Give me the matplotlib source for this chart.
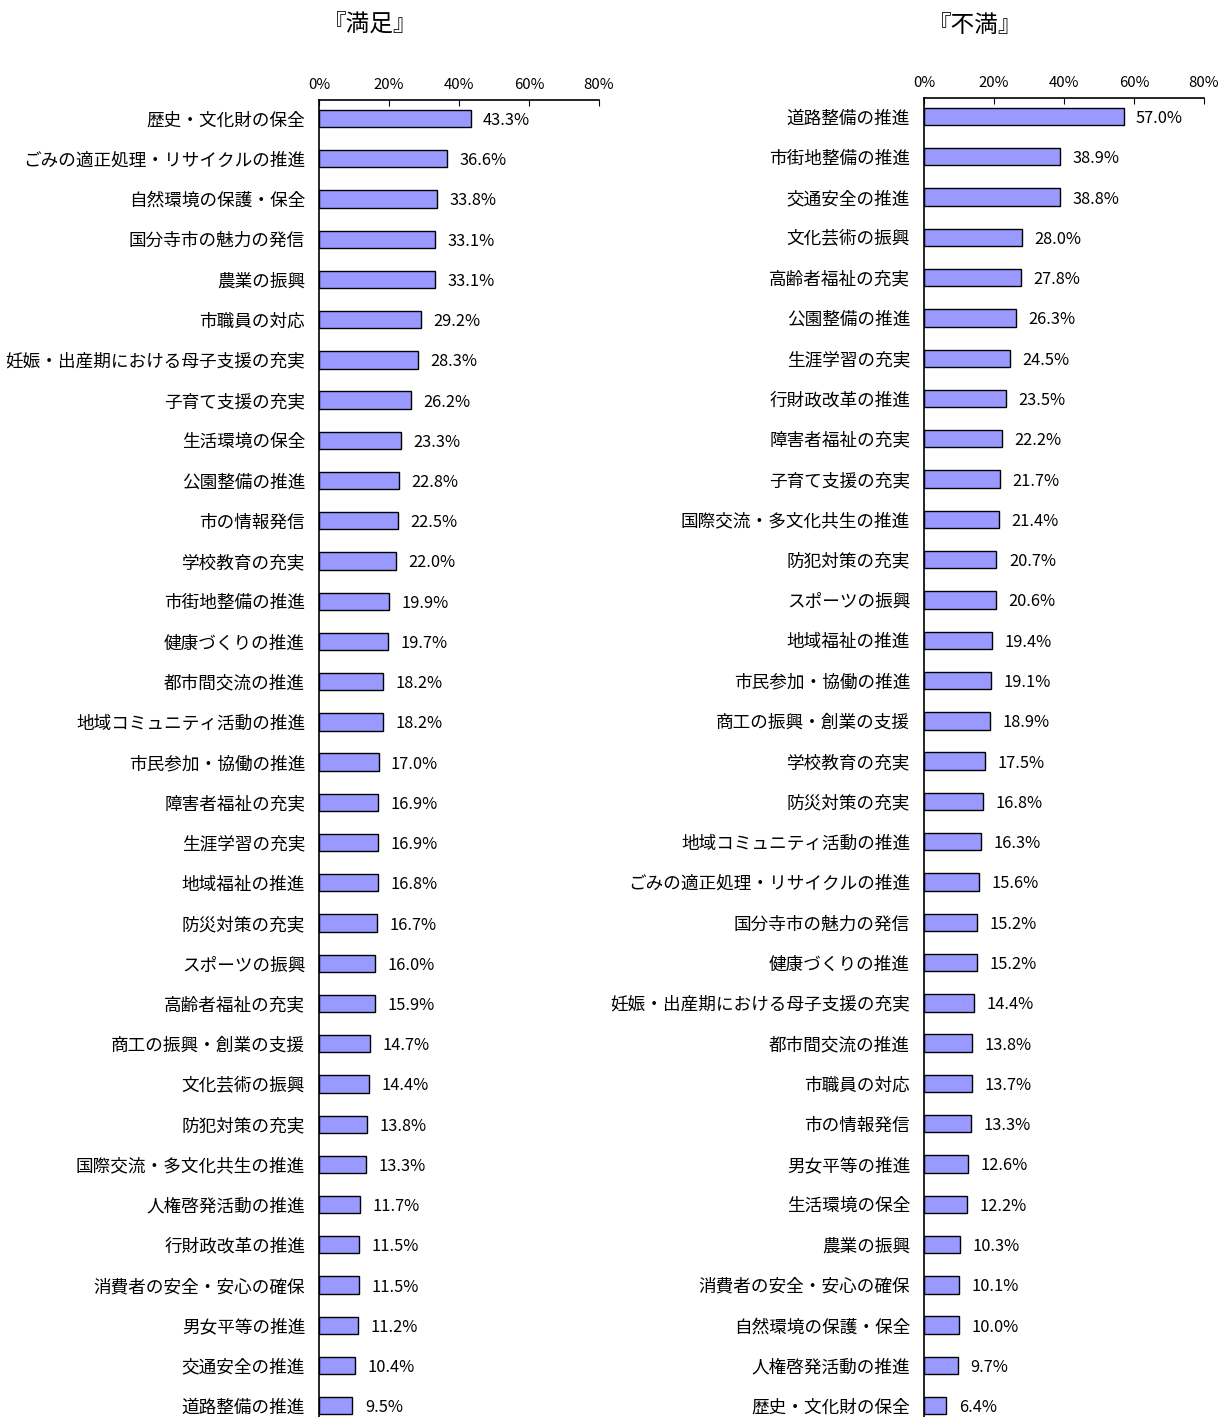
import matplotlib
matplotlib.use("Agg")
import matplotlib.pyplot as plt
import numpy as np

plt.rcParams['font.family'] = ['Noto Sans CJK JP', 'DejaVu Sans']

# 『満足』
sat_labels = [
    "歴史・文化財の保全", "ごみの適正処理・リサイクルの推進", "自然環境の保護・保全",
    "国分寺市の魅力の発信", "農業の振興", "市職員の対応",
    "妊娠・出産期における母子支援の充実", "子育て支援の充実", "生活環境の保全",
    "公園整備の推進", "市の情報発信", "学校教育の充実", "市街地整備の推進",
    "健康づくりの推進", "都市間交流の推進", "地域コミュニティ活動の推進",
    "市民参加・協働の推進", "障害者福祉の充実", "生涯学習の充実", "地域福祉の推進",
    "防災対策の充実", "スポーツの振興", "高齢者福祉の充実", "商工の振興・創業の支援",
    "文化芸術の振興", "防犯対策の充実", "国際交流・多文化共生の推進",
    "人権啓発活動の推進", "行財政改革の推進", "消費者の安全・安心の確保",
    "男女平等の推進", "交通安全の推進", "道路整備の推進",
]
sat_values = [43.3, 36.6, 33.8, 33.1, 33.1, 29.2, 28.3, 26.2, 23.3, 22.8, 22.5,
              22.0, 19.9, 19.7, 18.2, 18.2, 17.0, 16.9, 16.9, 16.8, 16.7, 16.0,
              15.9, 14.7, 14.4, 13.8, 13.3, 11.7, 11.5, 11.5, 11.2, 10.4, 9.5]

# 『不満』
dis_labels = [
    "道路整備の推進", "市街地整備の推進", "交通安全の推進", "文化芸術の振興",
    "高齢者福祉の充実", "公園整備の推進", "生涯学習の充実", "行財政改革の推進",
    "障害者福祉の充実", "子育て支援の充実", "国際交流・多文化共生の推進",
    "防犯対策の充実", "スポーツの振興", "地域福祉の推進", "市民参加・協働の推進",
    "商工の振興・創業の支援", "学校教育の充実", "防災対策の充実",
    "地域コミュニティ活動の推進", "ごみの適正処理・リサイクルの推進",
    "国分寺市の魅力の発信", "健康づくりの推進", "妊娠・出産期における母子支援の充実",
    "都市間交流の推進", "市職員の対応", "市の情報発信", "男女平等の推進",
    "生活環境の保全", "農業の振興", "消費者の安全・安心の確保",
    "自然環境の保護・保全", "人権啓発活動の推進", "歴史・文化財の保全",
]
dis_values = [57.0, 38.9, 38.8, 28.0, 27.8, 26.3, 24.5, 23.5, 22.2, 21.7, 21.4,
              20.7, 20.6, 19.4, 19.1, 18.9, 17.5, 16.8, 16.3, 15.6, 15.2, 15.2,
              14.4, 13.8, 13.7, 13.3, 12.6, 12.2, 10.3, 10.1, 10.0, 9.7, 6.4]

xticks = [0, 20, 40, 60, 80]
bar_color = "#9999FF"

W, H = 1221, 1417
fig = plt.figure(figsize=(W / 100, H / 100), dpi=100)


def panel(left_px, top_px, labels, values, title, title_x):
    n = len(labels)
    ax = fig.add_axes([left_px / W, 0, 280 / W, 1 - top_px / H])
    y = np.arange(n)
    ax.barh(y, values, height=0.43, color=bar_color, edgecolor="black", linewidth=1.0)
    ax.set_xlim(0, 80)
    ax.set_ylim(n - 1 + 0.28, -0.46)
    ax.set_yticks(y)
    ax.set_yticklabels(labels, fontsize=12.7)
    ax.tick_params(axis="y", length=0, pad=10)
    ax.xaxis.tick_top()
    ax.set_xticks(xticks)
    ax.set_xticklabels([f"{t}%" for t in xticks], fontsize=10.8)
    ax.tick_params(axis="x", direction="in", length=4, pad=6)
    ax.spines["right"].set_visible(False)
    ax.spines["bottom"].set_visible(False)
    for s in ["top", "left"]:
        ax.spines[s].set_linewidth(1.2)
    for yi, v in zip(y, values):
        ax.annotate(f"{v:.1f}%", (v, yi), xytext=(9, 0), textcoords="offset points",
                    va="center_baseline", ha="left", fontsize=11.8)
    fig.text(title_x / W, 1 - 25 / H, title, ha="center", va="center", fontsize=17)
    return ax


panel(319, 100, sat_labels, sat_values, "『満足』", 370)
panel(924, 98, dis_labels, dis_values, "『不満』", 975)

fig.savefig("out.png", dpi=100)
